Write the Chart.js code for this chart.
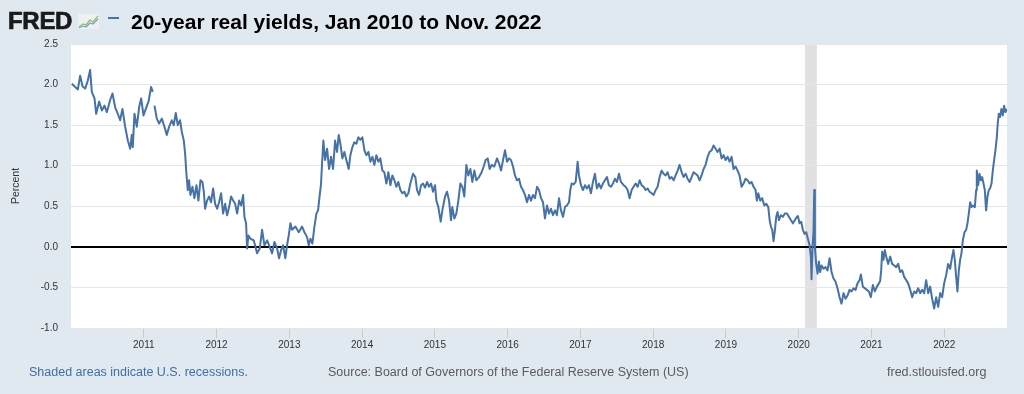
<!DOCTYPE html>
<html>
<head>
<meta charset="utf-8">
<title>20-year real yields</title>
<script src="https://cdn.jsdelivr.net/npm/chart.js@4.4.1/dist/chart.umd.min.js"></script>
<style>
  html, body { margin: 0; padding: 0; background: #e1e9f0; overflow: hidden; }
  #wrap { position: relative; width: 1024px; height: 394px; font-family: "Liberation Sans", Arial, sans-serif; }
  #chart { position: absolute; left: 0; top: 0; }
  .txt { position: absolute; white-space: nowrap; line-height: 1; }
  #logo { left: 8px; top: 9px; font-size: 24px; font-weight: bold; letter-spacing: -0.3px; color: #1a1a1a; -webkit-text-stroke: 0.7px #1a1a1a; }
  #icon { position: absolute; left: 78px; top: 14px; }
  #dash { position: absolute; left: 108px; top: 17px; width: 11px; height: 2px; background: #4572a7; }
  #title { left: 131px; top: 11px; font-size: 21px; font-weight: bold; color: #000; }
  .foot { top: 366px; font-size: 12.5px; color: #5a5a5a; }
  #shaded { left: 29px; color: #3f6fa6; }
  #source { left: 328px; }
  #site { left: 887px; }
</style>
</head>
<body>
<div id="wrap">
  <canvas id="chart" width="1024" height="394"></canvas>
  <div class="txt" id="logo">FRED</div>
  <svg id="icon" width="21" height="15" viewBox="0 0 21 15">
    <rect x="0" y="0" width="21" height="15" fill="#edf1f4"/>
    <polyline points="1,13 5,10 8,11 12,6 15,8 20,2" fill="none" stroke="#96c06a" stroke-width="1.4"/>
    <polyline points="1,14 5,12 8,13 12,9 15,10 20,5" fill="none" stroke="#7d9cc2" stroke-width="1.1"/>
  </svg>
  <div id="dash"></div>
  <div class="txt" id="title">20-year real yields, Jan 2010 to Nov. 2022</div>
  <div class="txt foot" id="shaded">Shaded areas indicate U.S. recessions.</div>
  <div class="txt foot" id="source">Source: Board of Governors of the Federal Reserve System (US)</div>
  <div class="txt foot" id="site">fred.stlouisfed.org</div>
</div>
<script>
// dates as fractional years
const yearPos = [
  2010.011, 2010.057, 2010.094, 2010.126, 2010.158, 2010.195, 2010.231, 2010.263, 2010.286, 2010.323,
  2010.346, 2010.387, 2010.424, 2010.460, 2010.492, 2010.538, 2010.570, 2010.607, 2010.643, 2010.675,
  2010.707, 2010.744, 2010.781, 2010.813, 2010.836, 2010.849, 2010.872, 2010.904, 2010.936, 2010.964,
  2010.996, 2011.028, 2011.065, 2011.101, 2011.124, 2011.135, 2011.147, 2011.179, 2011.211, 2011.248,
  2011.284, 2011.316, 2011.348, 2011.385, 2011.412, 2011.440, 2011.467, 2011.499, 2011.522, 2011.550,
  2011.568, 2011.586, 2011.605, 2011.623, 2011.641, 2011.669, 2011.696, 2011.724, 2011.751, 2011.779,
  2011.806, 2011.825, 2011.843, 2011.870, 2011.898, 2011.925, 2011.953, 2011.980, 2012.008, 2012.035,
  2012.063, 2012.090, 2012.118, 2012.145, 2012.173, 2012.200, 2012.228, 2012.255, 2012.283, 2012.310,
  2012.338, 2012.365, 2012.383, 2012.406, 2012.420, 2012.438, 2012.466, 2012.511, 2012.557, 2012.594,
  2012.626, 2012.658, 2012.695, 2012.731, 2012.763, 2012.795, 2012.832, 2012.859, 2012.887, 2012.914,
  2012.946, 2012.969, 2012.992, 2013.015, 2013.038, 2013.084, 2013.130, 2013.175, 2013.208, 2013.244,
  2013.267, 2013.290, 2013.317, 2013.345, 2013.372, 2013.395, 2013.413, 2013.436, 2013.450, 2013.468,
  2013.491, 2013.519, 2013.546, 2013.574, 2013.601, 2013.629, 2013.656, 2013.679, 2013.702, 2013.729,
  2013.757, 2013.784, 2013.816, 2013.839, 2013.867, 2013.894, 2013.922, 2013.949, 2013.977, 2014.004,
  2014.032, 2014.059, 2014.087, 2014.114, 2014.142, 2014.169, 2014.196, 2014.224, 2014.251, 2014.279,
  2014.306, 2014.334, 2014.361, 2014.389, 2014.416, 2014.444, 2014.471, 2014.498, 2014.526, 2014.553,
  2014.581, 2014.608, 2014.636, 2014.663, 2014.700, 2014.732, 2014.755, 2014.783, 2014.810, 2014.838,
  2014.865, 2014.893, 2014.920, 2014.948, 2014.975, 2015.002, 2015.021, 2015.048, 2015.080, 2015.103,
  2015.140, 2015.167, 2015.195, 2015.222, 2015.240, 2015.268, 2015.295, 2015.323, 2015.350, 2015.378,
  2015.405, 2015.433, 2015.460, 2015.488, 2015.515, 2015.543, 2015.570, 2015.607, 2015.643, 2015.671,
  2015.698, 2015.726, 2015.753, 2015.781, 2015.817, 2015.854, 2015.882, 2015.909, 2015.937, 2015.964,
  2015.992, 2016.019, 2016.046, 2016.074, 2016.101, 2016.129, 2016.156, 2016.184, 2016.211, 2016.239,
  2016.266, 2016.294, 2016.321, 2016.349, 2016.376, 2016.404, 2016.431, 2016.459, 2016.486, 2016.513,
  2016.541, 2016.568, 2016.596, 2016.623, 2016.651, 2016.678, 2016.706, 2016.733, 2016.761, 2016.788,
  2016.815, 2016.843, 2016.861, 2016.880, 2016.907, 2016.935, 2016.962, 2016.980, 2017.008, 2017.035,
  2017.063, 2017.090, 2017.117, 2017.145, 2017.172, 2017.200, 2017.227, 2017.255, 2017.282, 2017.310,
  2017.337, 2017.365, 2017.392, 2017.420, 2017.447, 2017.475, 2017.502, 2017.530, 2017.557, 2017.594,
  2017.621, 2017.649, 2017.676, 2017.704, 2017.731, 2017.759, 2017.786, 2017.814, 2017.841, 2017.869,
  2017.896, 2017.924, 2017.951, 2017.979, 2018.006, 2018.034, 2018.061, 2018.089, 2018.116, 2018.143,
  2018.171, 2018.198, 2018.226, 2018.253, 2018.281, 2018.308, 2018.336, 2018.363, 2018.391, 2018.418,
  2018.446, 2018.473, 2018.501, 2018.528, 2018.556, 2018.583, 2018.610, 2018.638, 2018.665, 2018.693,
  2018.720, 2018.748, 2018.775, 2018.803, 2018.830, 2018.858, 2018.885, 2018.913, 2018.940, 2018.968,
  2018.995, 2019.023, 2019.050, 2019.077, 2019.105, 2019.132, 2019.160, 2019.187, 2019.215, 2019.242,
  2019.270, 2019.297, 2019.325, 2019.352, 2019.379, 2019.407, 2019.425, 2019.444, 2019.471, 2019.498,
  2019.527, 2019.554, 2019.582, 2019.600, 2019.618, 2019.636, 2019.654, 2019.673, 2019.691, 2019.709,
  2019.728, 2019.755, 2019.783, 2019.810, 2019.838, 2019.865, 2019.892, 2019.920, 2019.948, 2019.975,
  2019.989, 2020.011, 2020.034, 2020.057, 2020.080, 2020.103, 2020.126, 2020.149, 2020.167, 2020.176,
  2020.190, 2020.204, 2020.213, 2020.222, 2020.240, 2020.259, 2020.277, 2020.295, 2020.314, 2020.341,
  2020.369, 2020.396, 2020.424, 2020.451, 2020.478, 2020.506, 2020.533, 2020.561, 2020.588, 2020.616,
  2020.643, 2020.671, 2020.698, 2020.726, 2020.753, 2020.781, 2020.808, 2020.836, 2020.854, 2020.881,
  2020.909, 2020.936, 2020.964, 2020.991, 2021.019, 2021.046, 2021.074, 2021.101, 2021.119, 2021.133,
  2021.147, 2021.165, 2021.183, 2021.202, 2021.229, 2021.257, 2021.284, 2021.312, 2021.339, 2021.367,
  2021.394, 2021.422, 2021.449, 2021.477, 2021.504, 2021.532, 2021.559, 2021.587, 2021.614, 2021.641,
  2021.669, 2021.696, 2021.724, 2021.751, 2021.779, 2021.806, 2021.834, 2021.861, 2021.889, 2021.916,
  2021.944, 2021.971, 2021.998, 2022.026, 2022.053, 2022.081, 2022.108, 2022.126, 2022.145, 2022.163,
  2022.181, 2022.200, 2022.218, 2022.236, 2022.255, 2022.278, 2022.301, 2022.319, 2022.337, 2022.356,
  2022.374, 2022.392, 2022.420, 2022.438, 2022.447, 2022.466, 2022.484, 2022.502, 2022.520, 2022.539,
  2022.557, 2022.575, 2022.594, 2022.612, 2022.630, 2022.649, 2022.667, 2022.685, 2022.703, 2022.722,
  2022.735, 2022.749, 2022.767, 2022.785, 2022.804, 2022.822, 2022.840, 2022.859
];

// percent, null = break in the series
const realYield = [
  2.01, 1.97, 1.94, 2.11, 1.98, 1.95, 2.05, 2.18, 1.91, 1.83,
  1.64, 1.79, 1.68, 1.74, 1.66, 1.81, 1.89, 1.72, 1.64, 1.56,
  1.70, 1.48, 1.31, 1.21, 1.38, 1.23, 1.64, 1.48, 1.72, 1.83,
  1.62, 1.70, 1.79, 1.97, 1.91, null, 1.74, 1.58, 1.52, 1.58,
  1.48, 1.38, 1.48, 1.56, 1.50, 1.65, 1.50, 1.56, 1.42, 1.31,
  1.15, 0.90, 0.70, 0.82, 0.64, 0.74, 0.60, 0.76, 0.57, 0.82,
  0.80, 0.68, 0.47, 0.57, 0.62, 0.55, 0.72, 0.53, 0.47, 0.55,
  0.66, 0.41, 0.53, 0.39, 0.49, 0.62, 0.57, 0.53, 0.41, 0.57,
  0.51, 0.64, 0.37, 0.29, -0.02, 0.14, 0.10, 0.08, -0.08, -0.02,
  0.21, 0.02, 0.08, 0.00, -0.08, 0.06, -0.02, -0.14, -0.04, 0.02,
  -0.14, 0.02, 0.14, 0.29, 0.21, 0.25, 0.18, 0.25, 0.18, 0.12,
  0.02, 0.10, 0.04, 0.25, 0.41, 0.45, 0.60, 0.78, 1.03, 1.31,
  1.07, 1.21, 0.96, 1.11, 0.96, 1.31, 1.17, 1.38, 1.27, 1.09,
  1.17, 1.07, 0.96, 1.13, 1.23, 1.29, 1.27, 1.35, 1.32, 1.35,
  1.19, 1.13, 1.17, 1.05, 1.11, 1.01, 1.13, 1.05, 1.09, 0.94,
  0.92, 0.78, 0.92, 0.76, 0.88, 0.82, 0.74, 0.80, 0.70, 0.66,
  0.68, 0.62, 0.66, 0.78, 0.90, 0.86, 0.70, 0.64, 0.76, 0.78,
  0.73, 0.80, 0.74, 0.78, 0.68, 0.76, 0.57, 0.49, 0.31, 0.45,
  0.62, 0.68, 0.57, 0.33, 0.49, 0.35, 0.41, 0.57, 0.78, 0.74,
  0.62, 1.01, 0.88, 0.96, 0.80, 0.94, 0.82, 0.86, 0.92, 0.99,
  1.07, 1.09, 0.96, 1.01, 0.99, 1.09, 1.03, 0.94, 1.07, 1.19,
  1.05, 1.09, 1.07, 0.99, 0.88, 0.82, 0.84, 0.74, 0.70, 0.64,
  0.55, 0.64, 0.57, 0.64, 0.60, 0.74, 0.70, 0.60, 0.55, 0.35,
  0.51, 0.41, 0.47, 0.39, 0.45, 0.39, 0.60, 0.45, 0.37, 0.49,
  0.51, 0.55, 0.70, 0.78, 0.77, 0.80, 1.05, 0.88, 0.76, 0.70,
  0.76, 0.72, 0.76, 0.66, 0.80, 0.90, 0.72, 0.78, 0.72, 0.78,
  0.82, 0.86, 0.76, 0.74, 0.78, 0.84, 0.80, 0.90, 0.80, 0.76,
  0.74, 0.70, 0.60, 0.70, 0.74, 0.78, 0.74, 0.82, 0.76, 0.74,
  0.70, 0.72, 0.68, 0.66, 0.64, 0.70, 0.74, 0.86, 0.94, 0.90,
  0.88, 0.92, 0.84, 0.86, 0.82, 0.88, 0.94, 1.01, 0.92, 0.86,
  0.90, 0.84, 0.80, 0.86, 0.92, 0.90, 0.88, 0.82, 0.88, 0.96,
  1.01, 1.11, 1.17, 1.19, 1.25, 1.21, 1.17, 1.21, 1.09, 1.13,
  1.07, 1.11, 1.05, 1.11, 0.96, 0.99, 0.94, 0.88, 0.74, 0.78,
  0.84, 0.82, 0.78, 0.80, 0.74, 0.70, 0.57, 0.66, 0.57, 0.60,
  0.51, 0.53, 0.49, 0.33, 0.25, 0.21, 0.07, 0.21, 0.37, 0.43,
  0.33, 0.39, 0.37, 0.41, 0.41, 0.37, 0.33, 0.29, 0.33, 0.37,
  0.38, 0.29, 0.31, 0.21, 0.16, 0.18, 0.10, 0.02, -0.12, -0.40,
  0.00, 0.21, 0.70, 0.00, -0.21, -0.33, -0.18, -0.31, -0.23, -0.27,
  -0.25, -0.29, -0.14, -0.31, -0.39, -0.43, -0.51, -0.62, -0.70, -0.57,
  -0.64, -0.60, -0.53, -0.55, -0.51, -0.53, -0.45, -0.41, -0.34, -0.49,
  -0.51, -0.53, -0.55, -0.62, -0.47, -0.55, -0.49, -0.45, -0.42, -0.29,
  -0.06, -0.16, -0.04, -0.12, -0.21, -0.12, -0.21, -0.23, -0.25, -0.21,
  -0.31, -0.29, -0.37, -0.41, -0.45, -0.53, -0.62, -0.55, -0.57, -0.51,
  -0.57, -0.53, -0.57, -0.41, -0.57, -0.49, -0.64, -0.76, -0.62, -0.74,
  -0.57, -0.62, -0.45, -0.35, -0.21, -0.27, -0.12, -0.04, -0.16, -0.37,
  -0.55, -0.29, -0.16, -0.08, 0.08, 0.18, 0.21, 0.29, 0.41, 0.55,
  0.49, 0.51, 0.49, 0.70, 0.94, 0.76, 0.90, 0.82, 0.86, 0.78,
  0.70, 0.45, 0.62, 0.70, 0.72, 0.78, 0.94, 1.07, 1.19, 1.35,
  1.52, 1.64, 1.60, 1.70, 1.62, 1.74, 1.66, 1.70
];

const yearTicks = [2011, 2012, 2013, 2014, 2015, 2016, 2017, 2018, 2019, 2020, 2021, 2022];
const percentTicks = [-1, -0.5, 0, 0.5, 1, 1.5, 2, 2.5];
const recession = [2020.085, 2020.249];   // Feb 2020 - Apr 2020

const FONT = '"Liberation Sans", Arial, sans-serif';

// white plot area + recession bar, painted under the grid
const plotBackground = {
    id: "plotBackground",
    beforeDraw(chart) {
        const { ctx, chartArea, scales } = chart;
        ctx.save();
        ctx.fillStyle = "#ffffff";
        ctx.fillRect(chartArea.left, chartArea.top, chartArea.width, chartArea.height);
        const x0 = scales.x.getPixelForValue(recession[0]);
        const x1 = scales.x.getPixelForValue(recession[1]);
        ctx.fillStyle = "#e1e1e1";
        ctx.fillRect(x0, chartArea.top, x1 - x0, chartArea.height);
        ctx.restore();
    }
};

const points = yearPos.map((t, i) => ({ x: t, y: realYield[i] }));

new Chart(document.getElementById("chart"), {
    type: "line",
    data: {
        datasets: [{
            label: "20-year real yields",
            data: points,
            borderColor: "#4572a7",
            borderWidth: 2,
            borderJoinStyle: "round",
            pointRadius: 0,
            tension: 0,
            spanGaps: false,
        }]
    },
    options: {
        responsive: false,
        animation: false,
        layout: { padding: { top: 44, right: 17, left: 0, bottom: 0 } },
        plugins: {
            legend: { display: false },
            tooltip: { enabled: false },
        },
        scales: {
            x: {
                type: "linear",
                min: 2010,
                max: 2022.862,
                afterBuildTicks: (s) => { s.ticks = yearTicks.map(v => ({ value: v })); },
                afterFit: (s) => { s.height = 66; },
                border: { display: false },
                grid: { drawOnChartArea: false, drawTicks: true, tickLength: 10, color: "#c6ccd2" },
                ticks: {
                    autoSkip: false,
                    maxRotation: 0,
                    padding: 1,
                    color: "#333",
                    font: { family: FONT, size: 10 },
                    callback: (v) => String(v),
                },
            },
            y: {
                min: -1,
                max: 2.5,
                afterBuildTicks: (s) => { s.ticks = percentTicks.map(v => ({ value: v })); },
                afterFit: (s) => { s.width = 71; },
                border: { display: false },
                grid: {
                    drawTicks: false,
                    color: (c) => c.tick && c.tick.value === 0 ? "#000000" : "#e6e6e6",
                    lineWidth: (c) => c.tick && c.tick.value === 0 ? 2 : 1,
                },
                ticks: {
                    padding: 13,
                    color: "#333",
                    font: { family: FONT, size: 10 },
                    callback: (v) => v.toFixed(1),
                },
                title: {
                    display: true,
                    text: "Percent",
                    color: "#333",
                    font: { family: FONT, size: 10.5 },
                    padding: { top: 10, bottom: 0 },
                },
            },
        },
    },
    plugins: [plotBackground],
});
</script>
</body>
</html>
